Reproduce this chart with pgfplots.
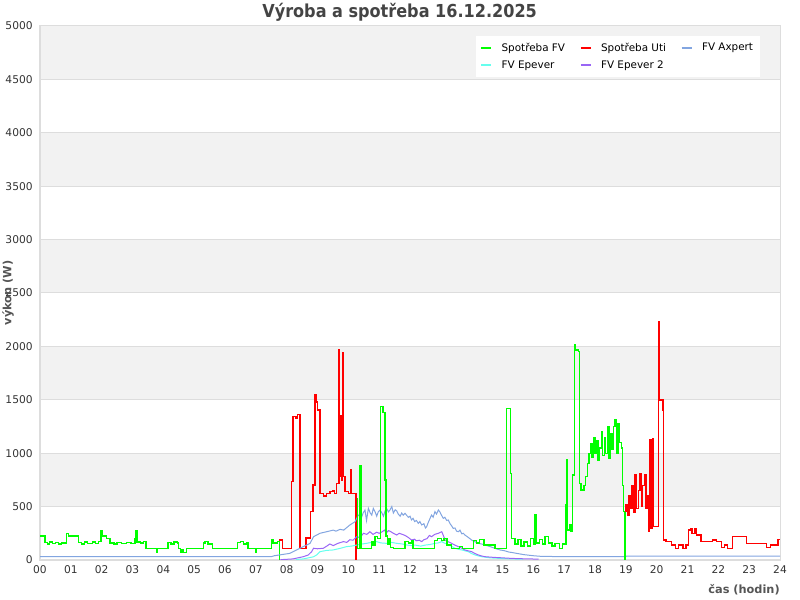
\documentclass[border=0pt]{standalone}
\usepackage{pgfplots}
\pgfplotsset{compat=1.18}
\usepackage{fontspec}
\setmainfont{DejaVu Sans}
\newfontfamily\condfont{DejaVu Sans Condensed}
\definecolor{cfv}{HTML}{00FF00}
\definecolor{cuti}{HTML}{FF0000}
\definecolor{caxp}{HTML}{82A5E0}
\definecolor{cepe}{HTML}{66FFEE}
\definecolor{cepe2}{HTML}{9966F5}
\definecolor{band}{HTML}{F2F2F2}
\definecolor{gridgray}{HTML}{DDDDDD}
\definecolor{tickgray}{HTML}{333333}
\definecolor{labgray}{HTML}{555555}
\definecolor{titgray}{HTML}{444444}
\begin{document}
\begin{tikzpicture}
\begin{axis}[
    set layers,
    at={(0,0)}, anchor=south west,
    scale only axis, width=555pt, height=400.5pt,
    xmin=0, xmax=24, ymin=0, ymax=5000,
    xtick={0,...,24},
    xticklabels={00,01,02,03,04,05,06,07,08,09,10,11,12,13,14,15,16,17,18,19,20,21,22,23,24},
    ytick={0,500,...,5000},
    /pgf/number format/1000 sep={},
    /pgf/number format/assume math mode=true,
    ymajorgrids, grid style={draw=gridgray, line width=0.75pt},
    axis line style={draw=gridgray, line width=0.75pt},
    major tick length=0pt,
    tick label style={font=\fontsize{8}{9}\selectfont, text=tickgray},
    xticklabel style={yshift=-1pt},
    yticklabel style={xshift=-2pt},
    title={\condfont\bfseries Výroba a spotřeba 16.12.2025},
    title style={at={(axis description cs:0.486,1)}, anchor=center, yshift=4.5pt,
        inner sep=0pt, font=\fontsize{13.4}{15}\selectfont, text=titgray},
    xlabel={čas (hodin)},
    xlabel style={at={(axis description cs:1,0)}, anchor=east, yshift=-22.5pt, inner sep=0pt,
        font=\bfseries\fontsize{8.5}{10}\selectfont, text=labgray},
    ylabel={výkon (W)},
    every axis y label/.style={at={(axis description cs:-0.043,0.5)}, rotate=90, anchor=center,
        inner sep=0pt, font=\bfseries\fontsize{8.5}{10}\selectfont, text=labgray},
    legend columns=3,
    legend cell align=left,
    legend style={at={(1,1)}, anchor=north east, xshift=-15pt, yshift=-7.5pt,
        draw=none, fill=white, font=\fontsize{7.8}{9}\selectfont,
        inner xsep=3pt, inner ysep=3pt, row sep=1.5pt,
        /tikz/every odd column/.append style={column sep=5pt},
        /tikz/every even column/.append style={column sep=9pt}},
    legend image code/.code={\draw[#1, line width=1.5pt] (0pt,0pt) -- (7.5pt,0pt);},
]
\pgfplotsextra{
\begin{pgfonlayer}{axis background}
\fill[band] (axis cs:0,500) rectangle (axis cs:24,1000);
\fill[band] (axis cs:0,1500) rectangle (axis cs:24,2000);
\fill[band] (axis cs:0,2500) rectangle (axis cs:24,3000);
\fill[band] (axis cs:0,3500) rectangle (axis cs:24,4000);
\fill[band] (axis cs:0,4500) rectangle (axis cs:24,5000);
\end{pgfonlayer}
}

% Spotřeba FV
\addplot[const plot, cfv, line width=1pt] coordinates {
(0,225) (0.16,165) (0.25,150) (0.3,170) (0.4,155) (0.5,165) (0.6,150) (0.7,160)
(0.87,250) (0.92,225) (1.24,165) (1.35,150) (1.45,170) (1.55,155) (1.7,170) (1.8,155)
(1.9,175) (1.98,270) (2.02,225) (2.15,200) (2.27,160) (2.4,150) (2.5,165) (2.65,155)
(2.8,165) (2.95,155) (3.08,200) (3.11,270) (3.15,170) (3.25,160) (3.35,175) (3.44,110)
(3.77,72) (3.8,110) (4.15,165) (4.25,150) (4.35,170) (4.45,160) (4.5,110) (4.55,72)
(4.6,95) (4.65,72) (4.76,110) (5.3,160) (5.35,175) (5.45,150) (5.6,110) (6.4,165)
(6.5,175) (6.6,150) (6.7,165) (6.75,110) (7.0,72) (7.03,110) (7.5,190) (7.56,160)
(7.7,175) (7.76,0) (7.77,0)
};
\addlegendentry{Spotřeba FV}

% Spotřeba Uti
\addplot[const plot, cuti, line width=1pt] coordinates {
(7.76,187) (7.87,110) (8.16,733) (8.2,1342) (8.3,1330) (8.35,1360) (8.43,110) (8.63,206)
(8.78,452) (8.85,702) (8.92,1545) (8.95,1480) (9.0,1404) (9.08,624) (9.2,600) (9.3,620)
(9.4,640) (9.5,650) (9.55,620) (9.62,718) (9.7,1966) (9.72,780) (9.75,1350) (9.77,750)
(9.82,1945) (9.84,780) (9.89,640) (10.0,620) (10.08,843) (10.1,620) (10.25,0) (10.27,0)
};
\addlegendentry{Spotřeba Uti}

% FV Axpert
\addplot[caxp, line width=0.75pt] coordinates {
(0,31) (7.5,31) (7.6,40) (8.1,62) (8.43,110) (8.76,156) (8.87,218) (9.08,250) (9.3,265)
(9.51,280) (9.6,270) (9.73,287) (9.85,280) (10.05,328) (10.22,359) (10.32,421) (10.43,400)
(10.48,440) (10.54,468) (10.59,370) (10.65,484) (10.71,440) (10.76,420) (10.81,484) (10.87,450)
(10.92,410) (10.97,450) (11.03,468) (11.09,440) (11.14,410) (11.19,460) (11.24,484) (11.3,450)
(11.35,468) (11.41,500) (11.46,440) (11.52,470) (11.57,460) (11.62,430) (11.68,410) (11.73,440)
(11.78,420) (11.84,437) (11.9,415) (11.95,400) (12.0,410) (12.05,375) (12.1,390) (12.15,360)
(12.21,370) (12.27,343) (12.32,360) (12.38,328) (12.45,340) (12.5,300) (12.54,312) (12.59,350)
(12.65,390) (12.7,421) (12.75,400) (12.81,453) (12.86,430) (12.92,468) (12.97,450) (13.02,420)
(13.08,390) (13.13,400) (13.19,370) (13.24,375) (13.3,340) (13.35,320) (13.4,296) (13.46,300)
(13.51,270) (13.57,265) (13.62,280) (13.68,245) (13.73,250) (13.78,234) (13.85,220) (13.92,205)
(14.0,187) (14.11,170) (14.22,156) (14.32,150) (14.43,140) (14.55,130) (14.7,115) (14.8,105)
(14.92,94) (15.05,88) (15.2,75) (15.35,68) (15.46,62) (15.6,55) (15.7,50) (15.85,45)
(16.0,40) (16.3,33) (19.0,31) (19.01,37) (24,37)
};
\addlegendentry{FV Axpert}

% FV Epever
\addplot[cepe, line width=0.75pt] coordinates {
(8.3,5) (8.54,10) (8.87,30) (8.97,47) (9.08,78) (9.3,90) (9.51,94) (9.75,110)
(9.94,125) (10.1,130) (10.27,140) (10.45,150) (10.59,156) (10.75,165) (10.92,172) (11.05,160)
(11.24,156) (11.4,165) (11.57,156) (11.75,150) (11.9,140) (12.05,135) (12.16,140) (12.35,130)
(12.5,140) (12.65,145) (12.81,156) (12.92,160) (13.03,172) (13.1,160) (13.2,150) (13.3,135)
(13.46,110) (13.57,100) (13.68,94) (13.89,78) (14.0,60) (14.11,47) (14.22,38) (14.32,31)
(14.6,20) (14.92,15) (15.3,10) (15.67,8)
};
\addlegendentry{FV Epever}

% FV Epever 2
\addplot[cepe2, line width=0.75pt] coordinates {
(7.8,3) (8.2,10) (8.54,31) (8.7,47) (8.81,78) (8.87,110) (9.0,105) (9.19,110) (9.3,130)
(9.4,150) (9.51,135) (9.65,155) (9.84,172) (9.95,165) (10.05,190) (10.15,185) (10.27,218)
(10.38,210) (10.49,250) (10.6,240) (10.7,265) (10.8,240) (10.92,260) (11.0,250) (11.1,265)
(11.17,280) (11.24,255) (11.3,275) (11.35,270) (11.46,250) (11.57,234) (11.65,250) (11.75,240)
(11.84,230) (11.95,210) (12.05,187) (12.15,195) (12.2,180) (12.3,185) (12.38,172) (12.45,190)
(12.55,200) (12.63,230) (12.7,218) (12.8,240) (12.92,250) (13.03,265) (13.08,230) (13.14,187)
(13.25,170) (13.35,156) (13.45,140) (13.57,125) (13.68,110) (13.78,94) (13.9,85) (14.0,78)
(14.11,60) (14.22,47) (14.32,38) (14.43,31) (14.7,25) (15.0,20) (15.3,15) (15.6,12)
(15.9,10) (16.17,8)
};
\addlegendentry{FV Epever 2}

% Spotřeba FV, second part
\addplot[const plot, cfv, line width=1pt, forget plot] coordinates {
(10.27,578) (10.3,110) (10.38,883) (10.42,110) (10.75,170) (10.8,140) (10.87,218) (10.95,200)
(11.05,1435) (11.12,1380) (11.19,750) (11.22,225) (11.27,150) (11.32,200) (11.37,120) (11.46,110)
(11.84,175) (11.95,160) (12.05,185) (12.1,110) (12.8,180) (12.9,200) (13.03,180) (13.1,200)
(13.2,140) (13.35,110) (13.6,125) (13.7,110) (14.05,185) (14.15,160) (14.25,190) (14.4,140)
(14.76,110) (15.14,1420) (15.27,810) (15.3,200) (15.4,150) (15.5,190) (15.6,130) (15.7,170)
(15.8,130) (15.9,200) (16.0,150) (16.05,421) (16.09,160) (16.2,190) (16.3,150) (16.38,218)
(16.5,160) (16.6,130) (16.7,156) (16.85,110) (16.95,150) (17.06,515) (17.08,936) (17.1,280)
(17.18,330) (17.22,270) (17.28,796) (17.33,2013) (17.37,1966) (17.46,1950) (17.49,1358) (17.5,718)
(17.55,655) (17.64,700) (17.7,780) (17.75,905) (17.8,1000) (17.85,1093) (17.9,960) (17.95,1150)
(18.0,1000) (18.05,1120) (18.1,930) (18.15,1050) (18.2,1200) (18.25,980) (18.3,1150) (18.35,1000)
(18.4,1250) (18.45,950) (18.5,1180) (18.55,1040) (18.6,1250) (18.65,1310) (18.7,1000) (18.75,1280)
(18.8,1100) (18.86,1050) (18.9,700) (18.92,452) (18.97,0) (18.98,0)
};

% Spotřeba Uti, second part
\addplot[const plot, cuti, line width=1pt, forget plot] coordinates {
(18.97,452) (19.0,520) (19.05,420) (19.1,600) (19.15,480) (19.2,700) (19.25,450) (19.3,796)
(19.35,480) (19.4,650) (19.46,811) (19.5,500) (19.55,700) (19.6,796) (19.65,480) (19.7,600)
(19.73,265) (19.76,600) (19.78,1124) (19.82,300) (19.86,1139) (19.9,312) (20.05,1857) (20.08,2230)
(20.1,1498) (20.2,1404) (20.22,187) (20.3,172) (20.49,140) (20.6,110) (20.7,140) (20.85,110)
(20.95,140) (21.03,281) (21.1,296) (21.15,250) (21.24,296) (21.3,234) (21.44,172) (21.8,187)
(21.95,172) (22.1,119) (22.2,140) (22.3,110) (22.46,218) (22.92,156) (23.56,119) (23.7,140)
(23.94,194) (24,194)
};
\end{axis}
\pgfresetboundingbox
\path (-30pt,-30pt) rectangle (570pt,420pt);
\end{tikzpicture}
\end{document}
